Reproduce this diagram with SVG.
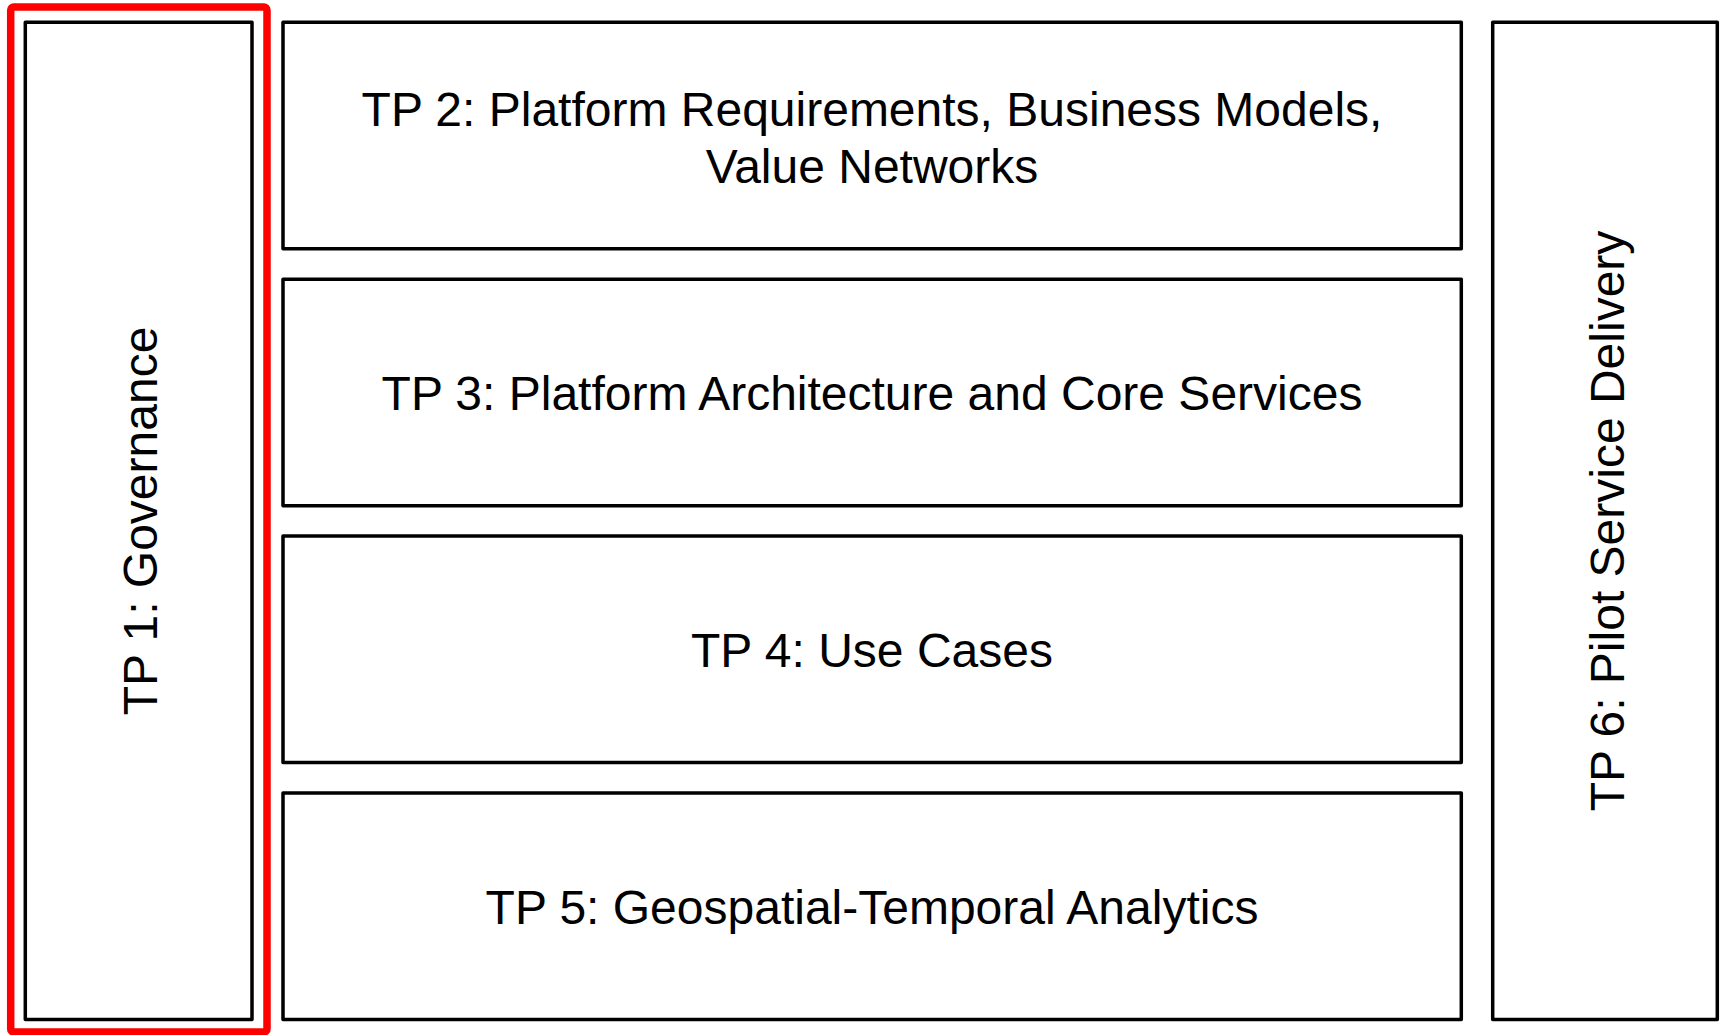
<svg xmlns="http://www.w3.org/2000/svg" width="1721" height="1035" viewBox="0 0 1721 1035">
<style>
.box{fill:#ffffff;stroke:#000000;stroke-width:3.5;stroke-linejoin:round}
.hl{fill:none;stroke:#ff0000;stroke-width:7.5;stroke-linejoin:round}
.lbl{font-family:"Liberation Sans",Arial,sans-serif;font-size:48px;fill:#000000;text-anchor:middle}
</style>
<rect x="0" y="0" width="1721" height="1035" fill="#ffffff"/>
<g id="tp1">
<rect class="box" x="25.3" y="22.3" width="226.7" height="997.2"/>
<text class="lbl" transform="translate(157,521) rotate(-90)" x="0" y="0">TP 1: Governance</text>
</g>
<g id="tp2">
<rect class="box" x="283" y="22.3" width="1178.3" height="226.5"/>
<text class="lbl" x="872" y="126">TP 2: Platform Requirements, Business Models,</text>
<text class="lbl" x="872" y="183">Value Networks</text>
</g>
<g id="tp3">
<rect class="box" x="283" y="279.2" width="1178.3" height="226.5"/>
<text class="lbl" x="872" y="410">TP 3: Platform Architecture and Core Services</text>
</g>
<g id="tp4">
<rect class="box" x="283" y="536.1" width="1178.3" height="226.5"/>
<text class="lbl" x="872" y="667">TP 4: Use Cases</text>
</g>
<g id="tp5">
<rect class="box" x="283" y="793" width="1178.3" height="226.5"/>
<text class="lbl" x="872" y="924">TP 5: Geospatial-Temporal Analytics</text>
</g>
<g id="tp6">
<rect class="box" x="1492.7" y="22.3" width="224.6" height="997.2"/>
<text class="lbl" transform="translate(1624,521) rotate(-90)" x="0" y="0">TP 6: Pilot Service Delivery</text>
</g>
<g id="highlight">
<rect class="hl" x="10.7" y="7" width="256.3" height="1025" rx="3"/>
</g>
<g id="connectors"></g>
</svg>
